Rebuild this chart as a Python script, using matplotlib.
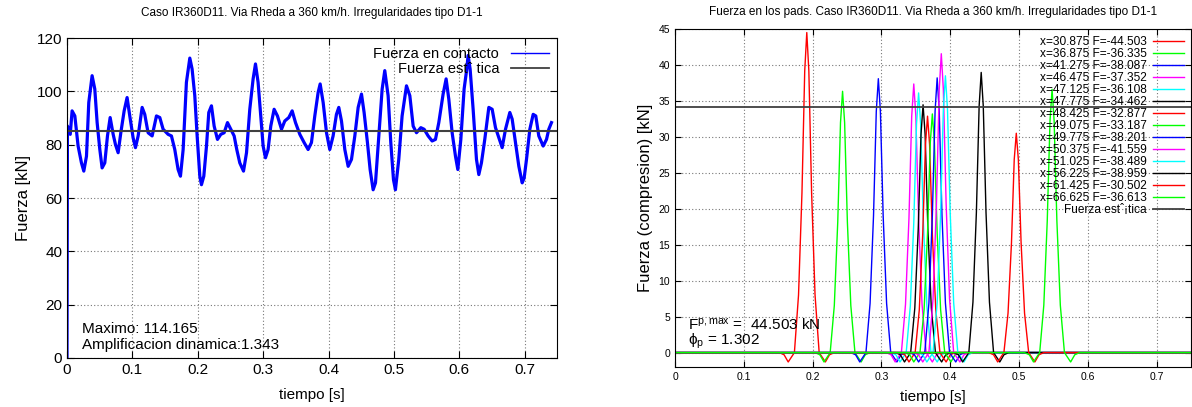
import numpy as np
import matplotlib
matplotlib.use("Agg")
import matplotlib.pyplot as plt
from matplotlib.lines import Line2D

plt.rcParams['font.family'] = ['Liberation Sans', 'DejaVu Sans']
plt.rcParams['mathtext.fontset'] = 'custom'
plt.rcParams['mathtext.rm'] = 'Liberation Sans'
plt.rcParams['mathtext.it'] = 'Liberation Sans'

# ---- datos panel izquierdo: fuerza en contacto ----
t_contacto = [0.0, 0.0007, 0.0050, 0.0078, 0.0120, 0.0170, 0.0221, 0.0257, 0.0298, 0.0333,
              0.0384, 0.0425, 0.0461, 0.0502, 0.0537, 0.0578, 0.0619, 0.0660, 0.0706, 0.0741,
              0.0782, 0.0823, 0.0874, 0.0919, 0.0960, 0.1011, 0.1047, 0.1088, 0.1149, 0.1189,
              0.1240, 0.1302, 0.1368, 0.1419, 0.1470, 0.1546, 0.1597, 0.1648, 0.1699, 0.1735,
              0.1776, 0.1826, 0.1878, 0.1913, 0.1954, 0.1990, 0.2031, 0.2056, 0.2092, 0.2133,
              0.2168, 0.2209, 0.2250, 0.2301, 0.2352, 0.2403, 0.2454, 0.2505, 0.2556, 0.2596,
              0.2642, 0.2699, 0.2745, 0.2795, 0.2846, 0.2882, 0.2922, 0.2963, 0.2999, 0.3035,
              0.3075, 0.3116, 0.3167, 0.3218, 0.3280, 0.3330, 0.3392, 0.3443, 0.3494, 0.3560,
              0.3626, 0.3687, 0.3738, 0.3789, 0.3840, 0.3871, 0.3917, 0.3968, 0.4018, 0.4069,
              0.4120, 0.4156, 0.4197, 0.4248, 0.4299, 0.4350, 0.4401, 0.4452, 0.4503, 0.4543,
              0.4594, 0.4635, 0.4681, 0.4717, 0.4768, 0.4819, 0.4859, 0.4910, 0.4951, 0.4992,
              0.5022, 0.5073, 0.5124, 0.5191, 0.5242, 0.5293, 0.5344, 0.5410, 0.5461, 0.5522,
              0.5583, 0.5634, 0.5685, 0.5751, 0.5797, 0.5838, 0.5889, 0.5940, 0.5976, 0.6022,
              0.6072, 0.6113, 0.6133, 0.6164, 0.6210, 0.6261, 0.6297, 0.6337, 0.6388, 0.6450,
              0.6501, 0.6552, 0.6603, 0.6654, 0.6705, 0.6771, 0.6807, 0.6858, 0.6909, 0.6960,
              0.6990, 0.7026, 0.7077, 0.7128, 0.7168, 0.7214, 0.7281, 0.7332, 0.7367, 0.7408]
f_contacto = [0.0, 87.0, 83.9, 92.7, 90.8, 79.5, 73.2, 70.1, 75.7, 95.8,
              105.9, 100.9, 88.3, 78.2, 71.3, 73.2, 83.3, 90.2, 83.9, 80.1,
              77.0, 84.5, 92.7, 97.7, 90.8, 82.6, 78.9, 83.3, 94.0, 91.4,
              84.5, 83.3, 90.8, 90.2, 85.8, 83.9, 83.3, 78.2, 70.7, 68.2,
              78.2, 103.4, 112.5, 108.4, 98.4, 83.3, 68.2, 65.0, 68.2, 79.5,
              92.1, 94.6, 87.0, 82.0, 83.9, 84.5, 88.3, 85.8, 83.3, 78.2,
              73.2, 70.1, 77.0, 93.3, 104.7, 110.3, 103.4, 90.8, 79.5, 75.1,
              78.2, 87.0, 93.3, 90.8, 85.8, 88.9, 90.2, 92.7, 88.3, 83.9,
              80.8, 78.2, 80.8, 90.8, 99.6, 102.8, 95.8, 84.5, 78.2, 83.3,
              91.4, 94.0, 88.9, 78.2, 71.9, 74.5, 83.3, 94.0, 99.0, 92.1,
              80.8, 70.7, 63.1, 65.7, 83.3, 100.9, 107.8, 98.4, 80.8, 66.9,
              63.1, 74.5, 90.8, 102.1, 98.4, 87.0, 84.5, 86.4, 85.8, 83.3,
              81.4, 82.0, 88.3, 99.0, 104.7, 97.1, 84.5, 75.7, 70.7, 82.0,
              100.9, 108.4, 113.5, 108.4, 93.3, 74.5, 68.8, 73.2, 82.0, 94.0,
              93.3, 86.4, 82.6, 78.9, 85.8, 92.1, 89.6, 80.8, 71.9, 65.7,
              67.5, 74.5, 85.8, 91.4, 90.8, 83.3, 79.5, 82.0, 85.8, 88.3]
f_estatica = 85.0

# ---- datos panel derecho: fuerza en los pads ----
etiquetas_pads = ["x=30.875 F=-44.503", "x=36.875 F=-36.335", "x=41.275 F=-38.087",
                  "x=46.475 F=-37.352", "x=47.125 F=-36.108", "x=47.775 F=-34.462",
                  "x=48.425 F=-32.877", "x=49.075 F=-33.187", "x=49.775 F=-38.201",
                  "x=50.375 F=-41.559", "x=51.025 F=-38.489", "x=56.225 F=-38.959",
                  "x=61.425 F=-30.502", "x=66.625 F=-36.613"]
t_pico = [0.1915, 0.2435, 0.2955, 0.347, 0.354, 0.3605, 0.367, 0.374, 0.381,
          0.387, 0.393, 0.445, 0.496, 0.548]
f_pico = [44.503, 36.335, 38.087, 37.352, 36.108, 34.462, 32.877, 33.187, 38.201,
          41.559, 38.489, 38.959, 30.502, 36.613]
colores = ['red', '#00ff00', 'blue', 'magenta', 'cyan', 'black',
           'red', '#00ff00', 'blue', 'magenta', 'cyan', 'black', 'red', '#00ff00']
# forma del pulso (desfase en s, fraccion del pico, valle en kN)
pulso_dt = [-0.040, -0.033, -0.027, -0.018, -0.012, -0.007, -0.003, 0.0,
            0.003, 0.007, 0.012, 0.018, 0.027, 0.033, 0.040]
pulso_rel = [0, 0, 0, 0, 0.18, 0.50, 0.88, 1.0, 0.88, 0.50, 0.18, 0, 0, 0, 0]
pulso_valle = [0, -0.3, -1.3, 0, 0, 0, 0, 0, 0, 0, 0, 0, -1.3, -0.3, 0]
f_est_pad = 34.18

fig = plt.figure(figsize=(11.92, 4.07), dpi=100)
ax1 = fig.add_axes([0.0562, 0.1204, 0.4115, 0.786])
ax2 = fig.add_axes([0.5663, 0.0983, 0.4329, 0.8305])

grid_kw = dict(color='#777777', linestyle=(0, (1, 2)), linewidth=0.8)

# panel izquierdo
ax1.plot(t_contacto, f_contacto, color='blue', lw=2.3, solid_joinstyle='round')
ax1.axhline(f_estatica, color='#404040', lw=1.5)
ax1.set_xlim(0, 0.75)
ax1.set_ylim(0, 120)
ax1.set_xticks(np.arange(0, 0.71, 0.1))
ax1.set_xticklabels(['0', '0.1', '0.2', '0.3', '0.4', '0.5', '0.6', '0.7'])
ax1.set_yticks(np.arange(0, 121, 20))
ax1.tick_params(direction='in', top=True, right=True, labelsize=11, length=5)
ax1.grid(True, **grid_kw)
ax1.set_xlabel('tiempo [s]', fontsize=11, labelpad=8)
ax1.set_ylabel('Fuerza [kN]', fontsize=12)
ax1.set_title('Caso IR360D11. Via Rheda a 360 km/h. Irregularidades tipo D1-1',
              fontsize=8.5, pad=16)
ax1.text(0.03, 0.02, 'Maximo: 114.165\nAmplificacion dinamica:1.343',
         transform=ax1.transAxes, fontsize=11, linespacing=1.1, va='bottom')
h1 = [Line2D([], [], color='blue', lw=1.0), Line2D([], [], color='#404040', lw=1.3)]
ax1.legend(h1, ['Fuerza en contacto', 'Fuerza est\u02c6 tica'], loc='upper right',
           frameon=False, markerfirst=False, fontsize=10.5, handlelength=2.6,
           borderaxespad=0.2, labelspacing=0.1)

# panel derecho
for tp, fp, col, lab in zip(t_pico, f_pico, colores, etiquetas_pads):
    tt = [0.0] + [tp + d for d in pulso_dt] + [0.75]
    ff = [0.0] + [fp * r + v for r, v in zip(pulso_rel, pulso_valle)] + [0.0]
    ax2.plot(tt, ff, color=col, lw=1.0, label=lab)
ax2.axhline(f_est_pad, color='#404040', lw=1.3, label='Fuerza est\u02c6\u00a1tica')
ax2.set_xlim(0, 0.75)
ax2.set_ylim(-2, 45)
ax2.set_xticks(np.arange(0, 0.71, 0.1))
ax2.set_xticklabels(['0', '0.1', '0.2', '0.3', '0.4', '0.5', '0.6', '0.7'])
ax2.set_yticks(np.arange(0, 46, 5))
ax2.tick_params(direction='in', top=True, right=True, labelsize=7.5, length=4)
ax2.grid(True, **grid_kw)
ax2.set_xlabel('tiempo [s]', fontsize=11, labelpad=6)
ax2.set_ylabel('Fuerza (compresion) [kN]', fontsize=12)
ax2.set_title('Fuerza en los pads. Caso IR360D11. Via Rheda a 360 km/h. Irregularidades tipo D1-1',
              fontsize=8.5, pad=10)
ax2.text(0.025, 0.11, r'F$^{\mathregular{p,max}}$ =  44.503 kN', transform=ax2.transAxes,
         fontsize=11)
ax2.text(0.025, 0.065, r'$\mathregular{\phi_p}$ = 1.302', transform=ax2.transAxes,
         fontsize=11)
ax2.legend(loc='upper right', frameon=False, markerfirst=False, fontsize=8.6,
           handlelength=2.6, borderaxespad=0.2, labelspacing=0.0, handletextpad=0.5)

fig.savefig('out.png', dpi=100)
